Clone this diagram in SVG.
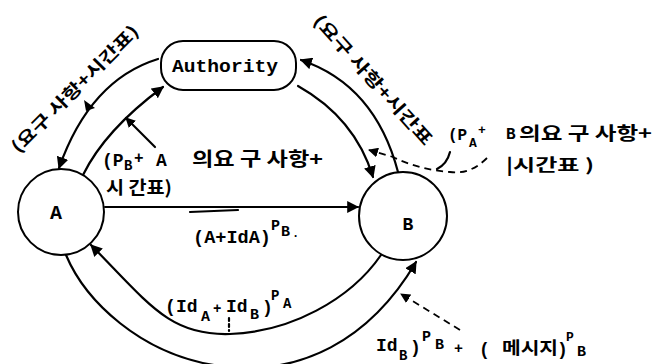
<svg xmlns="http://www.w3.org/2000/svg" width="657" height="364" viewBox="0 0 657 364">
<style>
.ln{fill:none;stroke:#000;stroke-width:2.2;stroke-linecap:round}
.dash{fill:none;stroke:#000;stroke-width:1.8;stroke-dasharray:7 5}
.node{fill:#fff;stroke:#000;stroke-width:2}
.mono{font-family:"Liberation Mono","DejaVu Sans Mono",monospace;font-weight:bold;fill:#000}
.kr{font-family:"Noto Sans CJK KR","Noto Sans CJK SC",sans-serif;font-weight:bold;fill:#000}
</style>
<defs>
<marker id="ah" viewBox="0 0 10 10" refX="9" refY="5" markerWidth="12" markerHeight="12" markerUnits="userSpaceOnUse" orient="auto"><path d="M0,0 L10,5 L0,10 z" fill="#000"/></marker>
<marker id="ahs" viewBox="0 0 10 10" refX="9" refY="5" markerWidth="10" markerHeight="10" markerUnits="userSpaceOnUse" orient="auto"><path d="M0,0 L10,5 L0,10 z" fill="#000"/></marker>
</defs>
<rect width="657" height="364" fill="#fff"/>
<g id="connectors">
<path class="ln" d="M158,59 Q90,80 59,168" marker-end="url(#ah)"/>
<path class="ln" d="M83,175 Q105,130 163,87" marker-end="url(#ah)"/>
<path class="ln" d="M398,172 Q375,85 301,60" marker-end="url(#ah)"/>
<path class="ln" d="M298,86 Q355,118 373,177" marker-end="url(#ah)"/>
<path class="ln" d="M105,207 L358,207" marker-end="url(#ah)"/>
<path class="ln" d="M381,255 C350,300 290,332 230,334 C170,336 150,305 91,245" marker-end="url(#ah)"/>
<path class="ln" d="M66,255 C85,300 140,355 220,366 C300,377 370,340 416,262" marker-end="url(#ah)"/>
<path class="ln" d="M155,147 L126,118" marker-end="url(#ahs)"/>
<path d="M84,100 L95,108 L86,111 z" fill="#000"/>
<path class="dash" d="M487,158 Q470,175 450,172 Q420,170 393,157 L369,150" marker-end="url(#ahs)"/>
<path class="ln" stroke-width="1.6" d="M450,152 Q447,164 437,169"/>
<path class="dash" d="M460,330 L401,294" marker-end="url(#ahs)"/>
<path class="ln" stroke-width="3" d="M190,212 L238,210"/>
<path class="ln" stroke-width="1.4" stroke-dasharray="3 3" d="M229,318 L229,331"/>
</g>
<g id="authority">
<rect class="node" x="161" y="41" width="135" height="49" rx="22"/>
<text class="mono" x="172" y="72" font-size="19" textLength="106" lengthAdjust="spacingAndGlyphs">Authority</text>
</g>
<g id="nodeA">
<circle class="node" cx="61" cy="212" r="43"/>
<text class="mono" x="56" y="219" font-size="20" text-anchor="middle">A</text>
</g>
<g id="nodeB">
<circle class="node" cx="403" cy="216" r="44"/>
<text class="mono" x="408" y="230" font-size="18" text-anchor="middle">B</text>
</g>
<g id="labels">
<text class="kr" transform="translate(75,89) rotate(-45)" x="0" y="6" font-size="17" text-anchor="middle" textLength="172" lengthAdjust="spacingAndGlyphs">(요구 사항+시간표)</text>
<text class="kr" transform="translate(373,80) rotate(48)" x="0" y="6" font-size="17" text-anchor="middle" textLength="168" lengthAdjust="spacingAndGlyphs">(요구 사항+시간표</text>
<text class="mono" font-size="18" y="166"><tspan x="102">(P</tspan><tspan x="124" y="170" font-size="14">B</tspan><tspan x="134" y="163" font-size="16">+</tspan><tspan x="156" y="166">A</tspan></text>
<text class="kr" x="192" y="166" font-size="19" textLength="131" lengthAdjust="spacingAndGlyphs">의요 구 사항+</text>
<text class="kr" x="106" y="194" font-size="18" textLength="66" lengthAdjust="spacingAndGlyphs">시 간표)</text>
<text class="mono" font-size="16" y="140"><tspan x="448">(P</tspan><tspan x="469" y="147" font-size="13">A</tspan><tspan x="478" y="134" font-size="13">+</tspan><tspan x="506" y="139">B</tspan></text>
<text class="kr" x="519" y="140" font-size="18" textLength="133" lengthAdjust="spacingAndGlyphs">의요 구 사항+</text>
<text class="kr" x="506" y="171" font-size="17" textLength="88" lengthAdjust="spacingAndGlyphs">|시간표 )</text>
<text class="mono" font-size="18" y="243"><tspan x="193" textLength="78" lengthAdjust="spacingAndGlyphs">(A+IdA)</tspan><tspan x="271" y="230" font-size="15">P</tspan><tspan x="281" y="236" font-size="15">B</tspan><tspan x="292" y="237" font-size="12">.</tspan></text>
<text class="mono" font-size="18" y="312"><tspan x="165">(</tspan><tspan x="176">Id</tspan><tspan x="201" y="321" font-size="15">A</tspan><tspan x="213" y="313" font-size="14">+</tspan><tspan x="226" y="312">Id</tspan><tspan x="250" y="319" font-size="15">B</tspan><tspan x="262" y="313">)</tspan><tspan x="271" y="300" font-size="14">P</tspan><tspan x="283" y="308" font-size="14">A</tspan></text>
<text class="mono" font-size="18" y="351"><tspan x="376">Id</tspan><tspan x="399" y="360" font-size="14">B</tspan><tspan x="410" y="353">)</tspan><tspan x="422" y="341" font-size="15">P</tspan><tspan x="435" y="349" font-size="15">B</tspan><tspan x="454" y="353" font-size="15">+</tspan><tspan x="479" y="355">(</tspan></text>
<text class="kr" x="502" y="354" font-size="17" textLength="56" lengthAdjust="spacingAndGlyphs">메시지</text>
<text class="mono" font-size="18" y="355"><tspan x="557">)</tspan><tspan x="566" y="341" font-size="13">P</tspan><tspan x="577" y="356" font-size="15">B</tspan></text>
</g>
</svg>
